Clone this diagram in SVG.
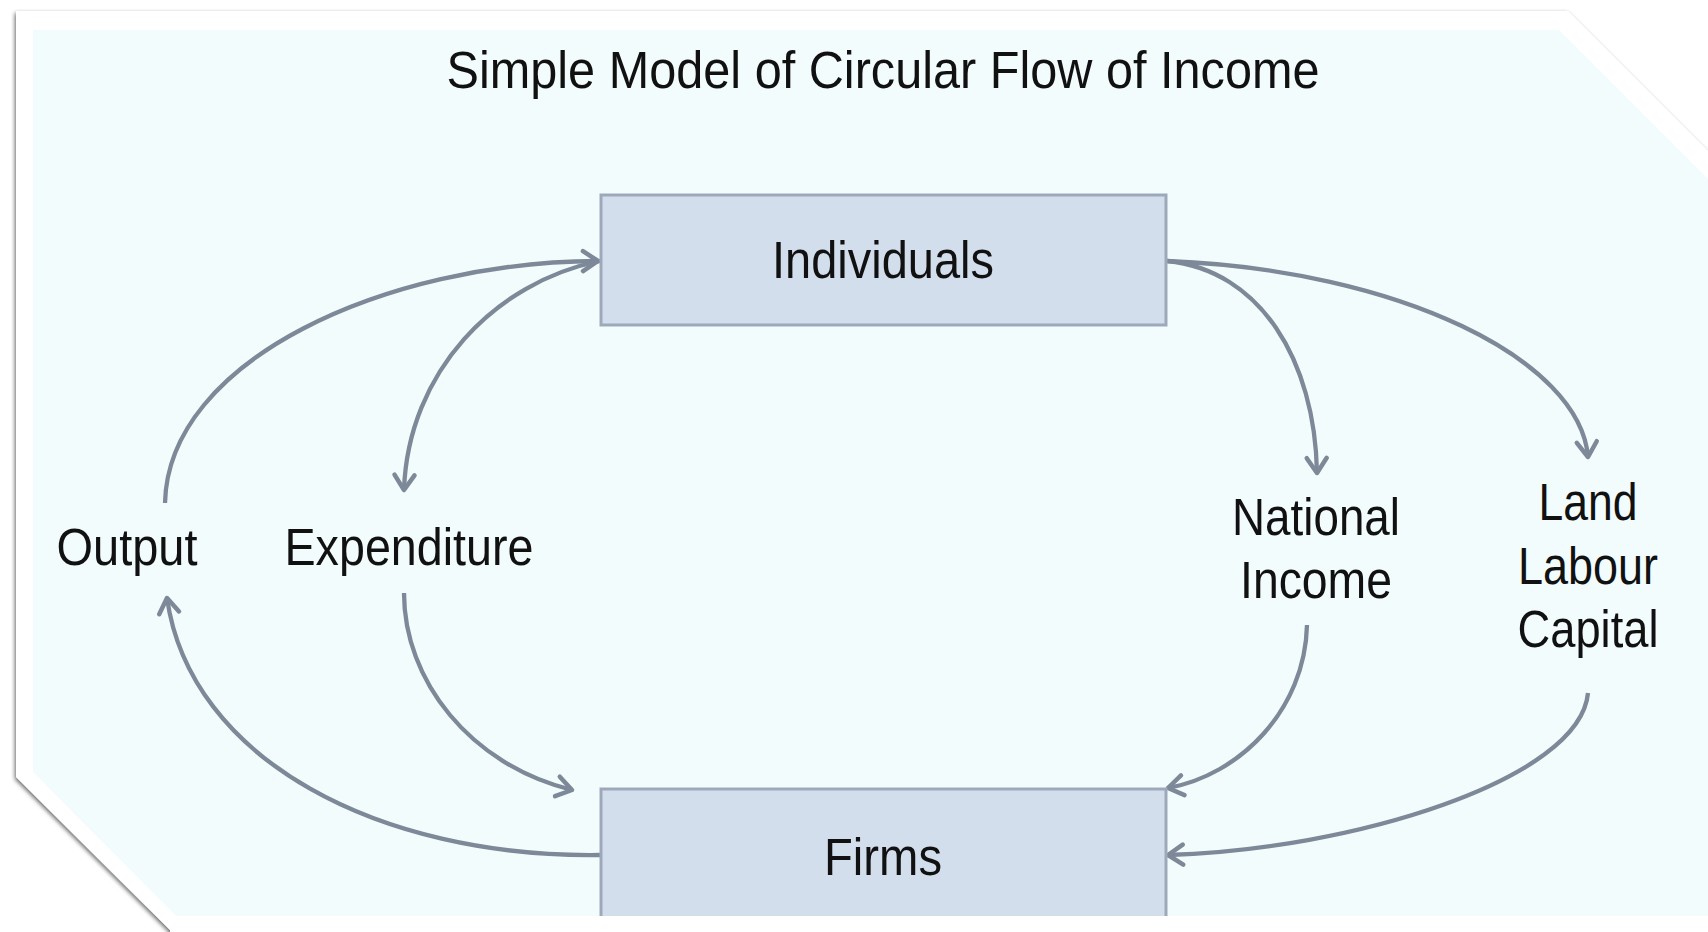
<svg xmlns="http://www.w3.org/2000/svg" width="1708" height="932" viewBox="0 0 1708 932">
  <defs>
    <filter id="shadow" x="-5%" y="-5%" width="110%" height="110%">
      <feGaussianBlur in="SourceAlpha" stdDeviation="2"/>
      <feOffset dx="-1.5" dy="1.5" result="b"/>
      <feComponentTransfer><feFuncA type="linear" slope="0.6"/></feComponentTransfer>
      <feMerge><feMergeNode/><feMergeNode in="SourceGraphic"/></feMerge>
    </filter>
    <marker id="arrow" viewBox="-20 -14 24 28" refX="0" refY="0" markerWidth="24" markerHeight="28" markerUnits="userSpaceOnUse" orient="auto">
      <path d="M -15 -10 L 0 0 L -15 10" fill="none" stroke="#7D8898" stroke-width="4.5" stroke-linecap="round" stroke-linejoin="round"/>
    </marker>
    <style>
      .lbl { font-family: "Liberation Sans", Arial, sans-serif; font-size: 51px; fill: #111; text-anchor: middle; }
      .box { fill: #D2DEEC; stroke: #9DA9BB; stroke-width: 3; }
      .conn { fill: none; stroke: #7D8898; stroke-width: 4.3; marker-end: url(#arrow); }
    </style>
  </defs>

  <rect x="0" y="0" width="1708" height="932" fill="#FFFFFF"/>
  <!-- frame -->
  <polygon points="16,11 1568,11 1712,155 1712,940 170,940 170,930 16,777" fill="#FFFFFF" filter="url(#shadow)"/>
  <polygon points="33,30 1559,30 1708,179 1708,916 1697,916 176,916 33,772" fill="#F2FCFD"/>

  <text class="lbl" x="883" y="88" font-size="52" textLength="873" lengthAdjust="spacingAndGlyphs">Simple Model of Circular Flow of Income</text>

  <g id="connectors">
    <path class="conn" d="M 165 503 C 168 360 385 262 598 261"/>
    <path class="conn" d="M 600 261 C 495 282 408 372 404 490"/>
    <path class="conn" d="M 404 593 C 404 680 470 765 572 790"/>
    <path class="conn" d="M 600 855 C 380 858 190 760 167 598"/>
    <path class="conn" d="M 1167 261 C 1260 270 1315 360 1317 473"/>
    <path class="conn" d="M 1167 261 C 1400 270 1580 360 1588 457"/>
    <path class="conn" d="M 1307 625 C 1305 710 1240 775 1168 788"/>
    <path class="conn" d="M 1588 693 C 1580 780 1350 850 1168 855"/>
  </g>

  <g id="individuals">
    <rect class="box" x="601" y="195" width="565" height="130"/>
    <text class="lbl" x="883" y="278" textLength="222" lengthAdjust="spacingAndGlyphs">Individuals</text>
  </g>

  <g id="firms">
    <path d="M 601 916 L 601 789 L 1166 789 L 1166 916 Z" fill="#D2DEEC"/>
    <path d="M 601 916 L 601 789 L 1166 789 L 1166 916" fill="none" stroke="#9DA9BB" stroke-width="3"/>
    <text class="lbl" x="883" y="875" textLength="118" lengthAdjust="spacingAndGlyphs">Firms</text>
  </g>

  <g id="output">
    <text class="lbl" x="127" y="565" textLength="141" lengthAdjust="spacingAndGlyphs">Output</text>
  </g>

  <g id="expenditure">
    <text class="lbl" x="409" y="565" textLength="249" lengthAdjust="spacingAndGlyphs">Expenditure</text>
  </g>

  <g id="national-income">
    <text class="lbl" x="1316" y="535" textLength="168" lengthAdjust="spacingAndGlyphs">National</text>
    <text class="lbl" x="1316" y="598" textLength="152" lengthAdjust="spacingAndGlyphs">Income</text>
  </g>

  <g id="factors">
    <text class="lbl" x="1588" y="520" textLength="99" lengthAdjust="spacingAndGlyphs">Land</text>
    <text class="lbl" x="1588" y="584" textLength="140" lengthAdjust="spacingAndGlyphs">Labour</text>
    <text class="lbl" x="1588" y="647" textLength="141" lengthAdjust="spacingAndGlyphs">Capital</text>
  </g>
</svg>
